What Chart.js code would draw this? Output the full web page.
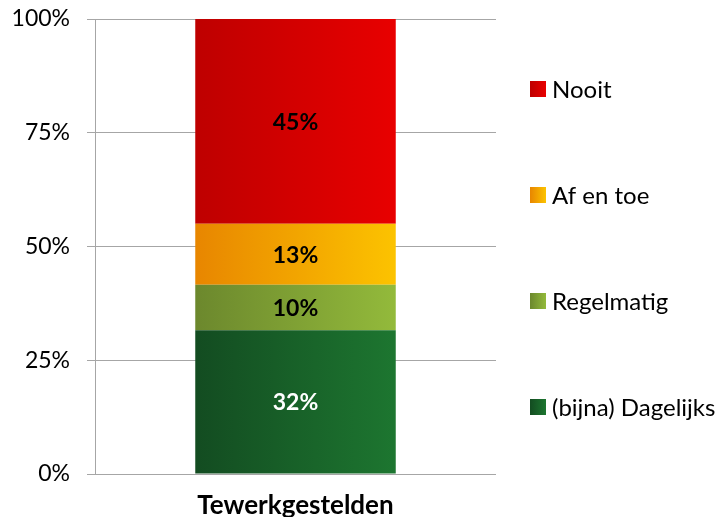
<!DOCTYPE html>
<html>
<head>
<meta charset="utf-8">
<script src="https://cdn.jsdelivr.net/npm/chart.js@4/dist/chart.umd.min.js"></script>
<style>
  html, body { margin: 0; padding: 0; background: #fff; }
  #wrap { width: 727px; height: 517px; position: relative; }
</style>
</head>
<body>
<div id="wrap"><canvas id="chart"></canvas></div>
<script>
// data
const categories = ['Tewerkgestelden'];
const seriesNames = ['(bijna) Dagelijks', 'Regelmatig', 'Af en toe', 'Nooit'];
const dagelijks = [31.6];
const regelmatig = [10.0];
const afEnToe = [13.4];
const nooit = [45.0];
const yTicks = [0, 25, 50, 75, 100];

// styles: left -> right colour of each segment
const gradStops = [
    ['#134C21', '#1D7630'],
    ['#6C882D', '#93BA3B'],
    ['#E88600', '#FCC300'],
    ['#BE0000', '#E80000']
];
const labelColors = ['#ffffff', '#000000', '#000000', '#000000'];

const FONT = 'Lato, "Open Sans", sans-serif';

const makeGrad = (c, x0, x1, i) => {
    const g = c.createLinearGradient(x0, 0, x1, 0);
    g.addColorStop(0, gradStops[i][0]);
    g.addColorStop(1, gradStops[i][1]);
    return g;
};

const barFill = i => ctx => {
    const chart = ctx.chart;
    const xs = chart.scales.x;
    if (!chart.chartArea || !xs) return gradStops[i][0];
    const cx = xs.getPixelForValue(ctx.dataIndex);
    const half = (xs.width / categories.length) * 0.5 / 2;
    return makeGrad(chart.ctx, cx - half, cx + half, i);
};

const seriesData = [dagelijks, regelmatig, afEnToe, nooit];

// value labels inside the segments
const valueLabels = {
    id: 'valueLabels',
    afterDatasetsDraw(chart) {
        const c = chart.ctx;
        c.save();
        c.font = 'bold 23px ' + FONT;
        c.textAlign = 'center';
        c.textBaseline = 'middle';
        chart.data.datasets.forEach((ds, i) => {
            const meta = chart.getDatasetMeta(i);
            meta.data.forEach((bar, j) => {
                c.fillStyle = labelColors[i];
                c.fillText(Math.round(ds.data[j]) + '%', bar.x, (bar.y + bar.base) / 2 + 1);
            });
        });
        c.restore();
    }
};

// legend on the right, top item = last series
const sideLegend = {
    id: 'sideLegend',
    afterDraw(chart) {
        const c = chart.ctx;
        const n = chart.data.datasets.length;
        c.save();
        c.font = '24px ' + FONT;
        c.textBaseline = 'middle';
        c.textAlign = 'left';
        for (let k = 0; k < n; k++) {
            const i = n - 1 - k;
            const cy = 89 + k * 106;
            c.fillStyle = makeGrad(c, 530, 546, i);
            c.fillRect(530, cy - 8, 16, 16);
            c.fillStyle = '#000';
            c.fillText(chart.data.datasets[i].label, 552, cy + 1);
        }
        c.restore();
    }
};

new Chart(document.getElementById('chart'), {
    type: 'bar',
    data: {
        labels: categories,
        datasets: seriesNames.map((name, i) => ({
            label: name,
            data: seriesData[i],
            backgroundColor: barFill(i),
            borderWidth: 0,
            barPercentage: 0.5,
            categoryPercentage: 1.0
        }))
    },
    options: {
        responsive: true,
        maintainAspectRatio: false,
        animation: false,
        layout: { padding: { top: 19, right: 231, left: 0, bottom: 0 } },
        plugins: {
            legend: { display: false },
            tooltip: { enabled: false }
        },
        scales: {
            x: {
                stacked: true,
                grid: { display: false },
                border: { display: false },
                ticks: {
                    color: '#000',
                    font: { family: FONT, size: 26, weight: 'bold' },
                    padding: 8
                },
                afterFit: s => {
                    s.height = 43;
                    s.paddingLeft = s.paddingRight = 0;
                }
            },
            y: {
                stacked: true,
                min: 0,
                max: 100,
                afterBuildTicks: s => { s.ticks = yTicks.map(v => ({ value: v })); },
                ticks: {
                    color: '#000',
                    font: { family: FONT, size: 23 },
                    padding: 17,
                    callback: v => v + '%'
                },
                grid: { color: '#A6A6A6', lineWidth: 1, tickLength: 8 },
                border: { display: true, color: '#A6A6A6', width: 1 },
                afterFit: s => {
                    s.width = 95;
                    s.paddingTop = s.paddingBottom = 0;
                }
            }
        }
    },
    plugins: [valueLabels, sideLegend]
});
</script>
</body>
</html>
